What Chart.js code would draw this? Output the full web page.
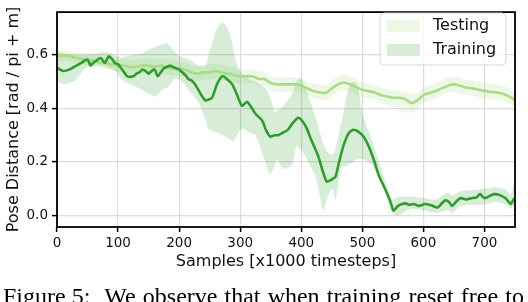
<!DOCTYPE html>
<html>
<head>
<meta charset="utf-8">
<script src="https://cdn.jsdelivr.net/npm/chart.js@4/dist/chart.umd.min.js"></script>
<style>
  html, body { margin: 0; padding: 0; background: #ffffff; }
  #wrap { position: relative; width: 528px; height: 302px; overflow: hidden; }
  canvas { position: absolute; left: 0; top: 0; }
  #caption { position: absolute; left: 3px; top: 284px; font-family: "Liberation Serif", "Times New Roman", serif;
    font-size: 24px; line-height: 1; white-space: nowrap; color: #000; word-spacing: 1.1px; }
  #caption .fig { margin-right: 14px; word-spacing: 0; }
</style>
</head>
<body>
<div id="wrap">
  <canvas id="c" width="528" height="302"></canvas>
  <div id="caption"><span class="fig">Figure 5:</span>We observe that when training reset free to</div>
</div>
<script>
// ---- data ----
const xTicks = [0, 100, 200, 300, 400, 500, 600, 700];
const yTicks = [0.0, 0.2, 0.4, 0.6];

// Testing (evaluated every 10k samples)
const testX = [0,10,20,30,40,50,60,70,80,90,100,110,120,130,140,150,160,170,180,190,200,210,220,230,240,250,260,270,280,290,300,310,320,330,340,350,360,370,380,390,400,410,420,430,440,450,460,470,480,490,500,510,520,530,540,550,560,570,580,590,600,610,620,630,640,650,660,670,680,690,700,710,720,730,740,750];
const testMean = [0.595,0.597,0.595,0.59,0.585,0.583,0.578,0.572,0.57,0.565,0.562,0.56,0.555,0.555,0.56,0.56,0.555,0.56,0.555,0.55,0.55,0.545,0.535,0.53,0.535,0.535,0.54,0.535,0.53,0.525,0.52,0.52,0.52,0.51,0.51,0.495,0.49,0.49,0.49,0.49,0.485,0.475,0.465,0.46,0.458,0.475,0.49,0.497,0.49,0.48,0.47,0.465,0.46,0.45,0.445,0.44,0.44,0.435,0.42,0.43,0.45,0.458,0.465,0.475,0.485,0.49,0.485,0.478,0.475,0.47,0.465,0.462,0.46,0.455,0.445,0.43];
const testUpper = [0.615,0.617,0.615,0.61,0.607,0.605,0.6,0.595,0.593,0.59,0.588,0.585,0.582,0.582,0.587,0.588,0.585,0.588,0.583,0.578,0.577,0.572,0.563,0.558,0.562,0.565,0.57,0.563,0.558,0.553,0.548,0.547,0.546,0.538,0.538,0.522,0.518,0.518,0.517,0.517,0.512,0.502,0.493,0.488,0.487,0.503,0.518,0.525,0.518,0.508,0.498,0.492,0.487,0.478,0.473,0.468,0.468,0.463,0.455,0.46,0.478,0.487,0.494,0.505,0.515,0.52,0.515,0.508,0.505,0.5,0.495,0.492,0.49,0.485,0.475,0.46];
const testLower = [0.575,0.577,0.575,0.57,0.563,0.561,0.556,0.55,0.547,0.54,0.537,0.535,0.528,0.528,0.533,0.532,0.525,0.532,0.527,0.522,0.523,0.518,0.507,0.502,0.508,0.507,0.512,0.507,0.502,0.497,0.492,0.493,0.494,0.482,0.482,0.468,0.462,0.462,0.463,0.463,0.458,0.448,0.437,0.432,0.43,0.447,0.462,0.47,0.462,0.452,0.442,0.438,0.433,0.422,0.415,0.405,0.395,0.385,0.385,0.4,0.42,0.43,0.437,0.447,0.457,0.462,0.457,0.45,0.447,0.442,0.437,0.434,0.432,0.427,0.417,0.402];

// Training mean
const trainX = [0,10,20,30,40,50,55,60,65,72,78,85,90,95,100,105,110,115,125,130,135,140,145,150,155,160,165,170,175,180,185,190,195,200,210,215,220,226,235,243,250,254,262,268,272,278,287,295,303,311,318,325,336,342,349,356,362,370,378,386,395,401,408,415,428,436,442,450,456,462,469,477,485,492,500,507,513,520,527,535,541,547,551,558,565,572,576,584,592,603,613,623,630,636,642,647,655,661,670,680,687,693,697,701,710,718,726,734,740,743,749];
const trainMean = [0.551,0.54,0.545,0.558,0.57,0.583,0.56,0.572,0.58,0.588,0.57,0.595,0.585,0.57,0.565,0.55,0.535,0.52,0.52,0.53,0.535,0.545,0.54,0.53,0.54,0.545,0.52,0.535,0.55,0.555,0.56,0.555,0.55,0.545,0.525,0.51,0.505,0.49,0.455,0.43,0.435,0.44,0.49,0.515,0.52,0.51,0.49,0.45,0.41,0.425,0.405,0.38,0.355,0.32,0.295,0.3,0.3,0.31,0.32,0.345,0.365,0.355,0.33,0.29,0.22,0.16,0.126,0.135,0.145,0.2,0.26,0.305,0.32,0.315,0.3,0.275,0.245,0.2,0.15,0.11,0.08,0.045,0.018,0.035,0.043,0.045,0.04,0.043,0.036,0.043,0.038,0.03,0.045,0.057,0.05,0.036,0.055,0.065,0.06,0.065,0.068,0.08,0.07,0.065,0.075,0.08,0.075,0.065,0.05,0.043,0.065];

// Training band
const trainBandX = [0,13,30,46,62,80,95,107,120,139,150,161,172,182,193,205,219,231,243,248,254,262,272,283,289,295,303,315,325,341,349,357,360,371,385,392,398,406,411,423,428,436,442,451,456,464,467,477,485,491,502,516,533,546,551,559,570,582,600,620,640,647,660,680,700,720,735,743,749];
const trainUpper = [0.61,0.605,0.6,0.6,0.605,0.61,0.6,0.59,0.6,0.605,0.62,0.63,0.64,0.64,0.61,0.59,0.58,0.56,0.56,0.6,0.64,0.7,0.72,0.68,0.62,0.56,0.53,0.51,0.5,0.475,0.44,0.385,0.39,0.41,0.455,0.5,0.515,0.48,0.45,0.37,0.33,0.27,0.24,0.227,0.25,0.33,0.36,0.47,0.5,0.49,0.37,0.28,0.16,0.07,0.06,0.07,0.07,0.07,0.065,0.06,0.085,0.075,0.09,0.095,0.1,0.105,0.095,0.08,0.125];
const trainLower = [0.5,0.49,0.505,0.55,0.56,0.555,0.54,0.505,0.49,0.47,0.455,0.445,0.47,0.48,0.51,0.5,0.46,0.425,0.36,0.32,0.315,0.31,0.3,0.285,0.28,0.3,0.325,0.31,0.3,0.2,0.155,0.19,0.21,0.175,0.19,0.26,0.25,0.225,0.2,0.15,0.1,0.018,0.06,0.1,0.057,0.175,0.18,0.19,0.2,0.21,0.21,0.19,0.115,0.03,0.005,0.0,0.015,0.025,0.02,0.01,0.02,0.01,0.035,0.04,0.04,0.05,0.04,0.025,0.04];

const legendLabels = ['Testing', 'Training'];

// ---- helpers ----
const pts = (xs, ys) => xs.map((x, i) => ({ x: x, y: ys[i] }));

const TEST_LINE = '#a9dc86';
const TEST_FILL = 'rgba(166,220,128,0.20)';
const TRAIN_LINE = '#2e9d2e';
const TRAIN_FILL = 'rgba(44,160,44,0.19)';

const frameAndLegend = {
  id: 'frameAndLegend',
  afterDraw(chart) {
    const { ctx, chartArea: a } = chart;
    ctx.save();
    // frame
    ctx.strokeStyle = '#000';
    ctx.lineWidth = 1.8;
    ctx.strokeRect(a.left, a.top, a.right - a.left, a.bottom - a.top);
    // legend
    const lx = 380, ly = 13, lw = 126, lh = 52, r = 4;
    ctx.beginPath();
    ctx.moveTo(lx + r, ly);
    ctx.lineTo(lx + lw - r, ly); ctx.quadraticCurveTo(lx + lw, ly, lx + lw, ly + r);
    ctx.lineTo(lx + lw, ly + lh - r); ctx.quadraticCurveTo(lx + lw, ly + lh, lx + lw - r, ly + lh);
    ctx.lineTo(lx + r, ly + lh); ctx.quadraticCurveTo(lx, ly + lh, lx, ly + lh - r);
    ctx.lineTo(lx, ly + r); ctx.quadraticCurveTo(lx, ly, lx + r, ly);
    ctx.closePath();
    ctx.fillStyle = 'rgba(255,255,255,0.8)';
    ctx.fill();
    ctx.strokeStyle = '#d6d6d6';
    ctx.lineWidth = 1;
    ctx.stroke();
    const fills = ['#eef7e6', '#d7edd5'];
    ctx.font = '16px "DejaVu Sans"';
    ctx.textBaseline = 'middle';
    ctx.textAlign = 'left';
    legendLabels.forEach((lab, i) => {
      const sy = 20 + i * 24;
      ctx.fillStyle = fills[i];
      ctx.fillRect(387, sy, 33, 12);
      ctx.fillStyle = '#111';
      ctx.fillText(lab, 433, sy + 6);
    });
    ctx.restore();
  }
};

new Chart(document.getElementById('c'), {
  type: 'line',
  data: {
    datasets: [
      { label: 'Training', data: pts(trainX, trainMean), borderColor: TRAIN_LINE, borderWidth: 2.6, pointRadius: 0, tension: 0.25, fill: false, order: 0 },
      { label: 'Testing', data: pts(testX, testMean), borderColor: TEST_LINE, borderWidth: 2.6, pointRadius: 0, tension: 0.25, fill: false, order: 1 },
      { label: 'trainUpper', data: pts(trainBandX, trainUpper), borderWidth: 0, borderColor: 'rgba(0,0,0,0)', backgroundColor: TRAIN_FILL, pointRadius: 0, tension: 0.3, fill: '+1', order: 2 },
      { label: 'trainLower', data: pts(trainBandX, trainLower), borderWidth: 0, borderColor: 'rgba(0,0,0,0)', pointRadius: 0, tension: 0.3, fill: false, order: 3 },
      { label: 'testUpper', data: pts(testX, testUpper), borderWidth: 0, borderColor: 'rgba(0,0,0,0)', backgroundColor: TEST_FILL, pointRadius: 0, tension: 0.25, fill: '+1', order: 4 },
      { label: 'testLower', data: pts(testX, testLower), borderWidth: 0, borderColor: 'rgba(0,0,0,0)', pointRadius: 0, tension: 0.25, fill: false, order: 5 }
    ]
  },
  options: {
    responsive: false,
    animation: false,
    devicePixelRatio: 1,
    layout: { padding: { left: 0, top: 4, right: 13, bottom: 0 } },
    plugins: {
      legend: { display: false },
      tooltip: { enabled: false },
      filler: { propagate: false }
    },
    scales: {
      x: {
        type: 'linear', min: 0, max: 750,
        afterBuildTicks: s => { s.ticks = xTicks.map(v => ({ value: v })); },
        afterFit: s => { s.height = 75; },
        border: { display: false },
        grid: { color: '#dcdcdc', lineWidth: 1.2, tickColor: '#000', tickWidth: 1.5, tickLength: 5, drawTicks: true },
        ticks: { color: '#111', font: { family: 'DejaVu Sans', size: 13.5 }, padding: 3, maxRotation: 0, autoSkip: false },
        title: { display: true, text: 'Samples [x1000 timesteps]', color: '#111', font: { family: 'DejaVu Sans', size: 16 }, padding: { top: 0, bottom: 30.4 } }
      },
      y: {
        type: 'linear', min: -0.043, max: 0.76,
        afterBuildTicks: s => { s.ticks = yTicks.map(v => ({ value: v })); },
        afterFit: s => { s.width = 57; },
        border: { display: false },
        grid: { color: '#dcdcdc', lineWidth: 1.2, tickColor: '#000', tickWidth: 1.5, tickLength: 5, drawTicks: true },
        ticks: { color: '#111', font: { family: 'DejaVu Sans', size: 13.5 }, padding: 4, callback: v => Number(v).toFixed(1) },
        title: { display: true, text: 'Pose Distance [rad / pi + m]', color: '#111', font: { family: 'DejaVu Sans', size: 16 }, padding: { top: 4.4, bottom: 0 } }
      }
    }
  },
  plugins: [frameAndLegend]
});
</script>
</body>
</html>
